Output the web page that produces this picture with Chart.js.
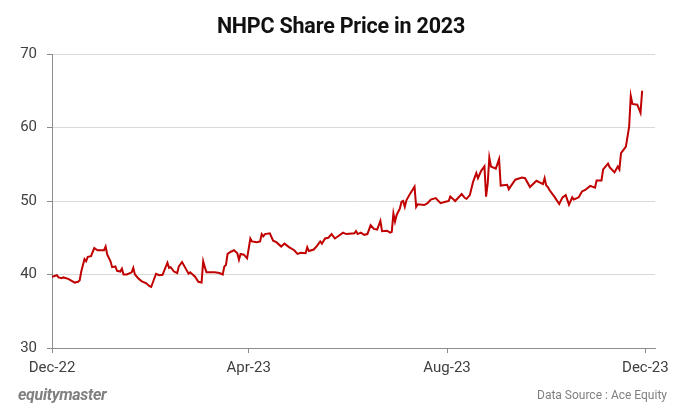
<!DOCTYPE html>
<html>
<head>
<meta charset="utf-8">
<script src="https://cdn.jsdelivr.net/npm/chart.js@4"></script>
<style>
  html, body { margin: 0; padding: 0; background: #ffffff; }
  #wrap { position: relative; width: 675px; height: 410px; }
  #title { position: absolute; left: 0; width: 682px; top: 13px; text-align: center; font-family: Roboto, "Liberation Sans", sans-serif; font-weight: bold; font-size: 21.5px; color: #111111; letter-spacing: -0.2px; }
  #foot-left { position: absolute; left: 18px; top: 385px; font-family: Roboto, "Liberation Sans", sans-serif; font-style: italic; font-weight: bold; font-size: 16px; color: #808080; letter-spacing: -0.3px; }
  #foot-right { position: absolute; right: 8px; top: 388px; font-family: Roboto, "Liberation Sans", sans-serif; font-size: 12px; color: #808080; }
</style>
</head>
<body>
<div id="wrap">
  <canvas id="c"></canvas>
  <div id="title">NHPC Share Price in 2023</div>
  <div id="foot-left">equitymaster</div>
  <div id="foot-right">Data Source : Ace Equity</div>
</div>
<script>
// Days since 1 Dec 2022
const days = [0,3,4,6,7,10,14,16,17,18,20,21,22,24,26,28,30,32,33,34,36,37,39,40,42,43,44,46,49,50,51,53,55,58,60,61,64,66,68,71,72,73,75,77,78,80,82,84,85,88,90,92,93,94,95,100,103,105,106,107,108,110,112,114,115,116,118,120,122,123,126,128,129,130,131,134,136,138,141,143,146,149,151,153,156,157,158,161,163,165,166,168,170,172,174,176,179,181,186,187,188,190,192,194,196,198,200,202,203,206,208,209,210,211,212,214,215,216,217,218,220,223,224,225,229,231,233,236,239,242,244,245,247,248,252,254,255,257,259,261,262,264,266,267,268,269,270,273,275,276,280,281,282,285,289,291,294,298,302,303,304,305,306,309,312,314,316,318,320,321,324,326,328,331,334,335,338,339,342,343,346,348,349,350,353,355,356,357,360,362,363];
const prices = [39.7,39.9,39.6,39.5,39.6,39.4,38.9,39.0,39.2,40.4,42.1,41.8,42.4,42.5,43.6,43.3,43.3,43.3,43.8,42.7,41.8,41.0,41.1,40.5,40.4,40.8,40.0,40.0,40.3,40.9,40.0,39.5,39.1,38.8,38.4,38.3,40.1,39.9,39.95,41.6,40.9,41.0,40.4,40.2,41.1,41.7,40.9,40.1,40.3,39.7,39.0,38.9,41.8,41.0,40.3,40.3,40.2,40.0,41.1,41.3,42.8,43.1,43.3,42.9,42.0,42.8,42.7,42.2,44.9,44.5,44.4,44.5,45.5,45.2,45.5,45.6,44.6,44.4,43.8,44.2,43.7,43.3,42.8,42.96,42.9,43.7,43.2,43.4,43.9,44.5,44.2,44.9,45.0,45.5,44.9,45.2,45.7,45.5,45.6,45.9,45.5,45.7,45.4,45.5,46.7,46.2,46.1,47.3,45.9,45.96,45.7,45.8,48.3,47.2,48.1,49.0,49.9,50.0,49.2,50.1,50.9,51.95,49.2,49.55,49.45,49.7,50.2,50.4,49.7,49.9,50.0,50.6,50.2,50.0,50.95,50.4,50.3,50.8,52.6,53.8,53.1,54.1,54.7,50.6,52.4,55.9,54.7,54.4,55.7,52.1,52.2,51.6,51.95,52.9,53.2,53.1,51.9,52.75,52.3,53.1,52.1,51.9,51.5,50.6,49.6,50.5,50.8,49.5,50.5,50.2,50.5,51.3,51.5,52.05,51.8,52.8,52.8,54.3,55.1,54.6,53.9,54.7,54.3,56.5,57.4,60.1,64.3,63.2,63.1,62.0,65.0];
const tickDays = [0,121,243,365];
const tickLabels = ["Dec-22","Apr-23","Aug-23","Dec-23"];
const yTicks = [30,40,50,60,70];

const points = days.map((d, i) => ({ x: d, y: prices[i] }));

new Chart(document.getElementById('c'), {
  type: 'line',
  data: {
    datasets: [{
      data: points,
      borderColor: '#c00000',
      borderWidth: 2,
      pointRadius: 0,
      tension: 0,
      fill: false
    }]
  },
  options: {
    responsive: true,
    maintainAspectRatio: false,
    animation: false,
    layout: { padding: { left: 0, right: 17, top: 54, bottom: 27 } },
    plugins: {
      legend: { display: false },
      tooltip: { enabled: false },
      title: { display: false }
    },
    scales: {
      x: {
        type: 'linear',
        min: 0,
        max: 371,
        afterBuildTicks: s => { s.ticks = tickDays.map(v => ({ value: v })); },
        afterFit: s => { s.height = 35; },
        ticks: {
          autoSkip: false,
          maxRotation: 0,
          padding: 6,
          color: '#404040',
          font: { family: 'Roboto', size: 15 },
          callback: v => tickLabels[tickDays.indexOf(v)] ?? ''
        },
        grid: { drawOnChartArea: false, drawTicks: true, tickLength: 5, color: '#8c8c8c' },
        border: { display: true, color: '#8c8c8c', width: 1 }
      },
      y: {
        min: 30,
        max: 70,
        afterBuildTicks: s => { s.ticks = yTicks.map(v => ({ value: v })); },
        afterFit: s => { s.width = 52; },
        ticks: {
          padding: 10,
          color: '#404040',
          font: { family: 'Roboto', size: 15 }
        },
        grid: { color: '#d9d9d9', tickColor: '#8c8c8c', tickLength: 5, drawTicks: true },
        border: { display: true, color: '#8c8c8c', width: 1 }
      }
    }
  }
});
</script>
</body>
</html>
